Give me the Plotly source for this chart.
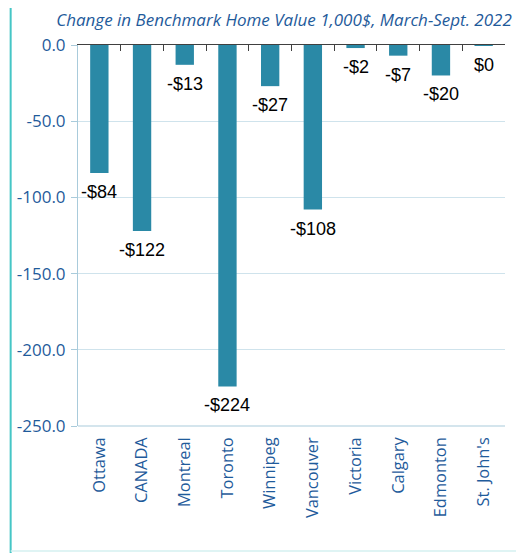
import plotly.graph_objects as go

cities = ["Ottawa", "CANADA", "Montreal", "Toronto", "Winnipeg", "Vancouver",
          "Victoria", "Calgary", "Edmonton", "St. John's"]
changes = [-84, -122, -13, -224, -27, -108, -2, -7, -20, -0.4]
y_ticks = [0, -50, -100, -150, -200, -250]

def fmt(v):
    r = int(round(abs(v)))
    return ("-$%d" % r) if r != 0 else "$0"

labels = [fmt(v) for v in changes]
y_ticktext = ["%.1f" % t for t in y_ticks]

# page body has an 8px margin; lay out figure in page coordinates minus 8
OFF = 8
W, H = 524 - OFF, 553 - OFF
ml = 77.5 - OFF
mt = 45 - OFF
mr = W - (505.5 - OFF)
mb = H - (426 - OFF)
pw = W - ml - mr
ph = H - mt - mb

fig = go.Figure()
fig.add_trace(go.Bar(
    x=cities, y=changes,
    marker=dict(color="#2a89a6", line=dict(width=0)),
    hoverinfo="skip", showlegend=False,
))
fig.add_trace(go.Scatter(
    x=cities, y=changes, xaxis="x2", mode="markers",
    marker=dict(opacity=0), hoverinfo="skip", showlegend=False,
))

annotations = [
    dict(x=c, y=v, text=t, xref="x", yref="y", showarrow=False,
         yanchor="middle", xanchor="center", yshift=-19,
         font=dict(family="Liberation Sans, Arial", size=18, color="#000000"))
    for c, v, t in zip(cities, changes, labels)
]

blue = "#1f5b9b"
fig.update_layout(
    width=W, height=H,
    margin=dict(l=ml, r=mr, t=mt, b=mb, pad=0),
    paper_bgcolor="white", plot_bgcolor="white",
    bargap=0.57,
    title=dict(text="<i>Change in Benchmark Home Value 1,000$, March-Sept. 2022</i>",
               x=(284 - OFF) / W, xref="container", xanchor="center",
               y=1 - (20 - OFF) / H, yref="container", yanchor="middle",
               font=dict(family="Open Sans", size=17, color=blue)),
    xaxis=dict(type="category", range=[-0.5, 9.5], showgrid=False,
               ticks="", tickangle=-90, showline=False, automargin=False,
               tickfont=dict(family="Open Sans", size=16.4, color=blue),
               ticklabelstandoff=7),
    xaxis2=dict(type="category", range=[-0.5, 9.5], overlaying="x", side="top",
                showticklabels=False, ticks="inside", tickson="boundaries",
                ticklen=6, tickcolor="#404040", showline=True, automargin=False,
                linecolor="#404040", linewidth=1, showgrid=False),
    yaxis=dict(range=[-250, 0], tickvals=y_ticks, ticktext=y_ticktext,
               showgrid=True, gridcolor="#cfe3ec", gridwidth=1, automargin=False,
               zeroline=False, showline=True, linecolor="#a9cbdb", linewidth=1,
               ticks="outside", ticklen=6, tickcolor="#a9cbdb",
               ticklabelstandoff=2,
               tickfont=dict(family="Open Sans", size=17, color=blue)),
    annotations=annotations,
    shapes=[
        dict(type="line", xref="paper", yref="paper",
             x0=(10 - OFF - ml) / pw, x1=(10 - OFF - ml) / pw,
             y0=(H - mb - H) / ph, y1=(H - mb) / ph,
             line=dict(color="#45c6c6", width=2)),
        dict(type="line", xref="paper", yref="paper",
             x0=(10 - OFF - ml) / pw, x1=(W - ml) / pw,
             y0=(H - mb - (551 - OFF)) / ph, y1=(H - mb - (551 - OFF)) / ph,
             line=dict(color="#d5f1f1", width=1.5)),
        dict(type="line", xref="paper", yref="paper",
             x0=0, x1=1, y0=0, y1=0,
             line=dict(color="#a9cbdb", width=1)),
    ],
)

fig.write_html("out.html")
